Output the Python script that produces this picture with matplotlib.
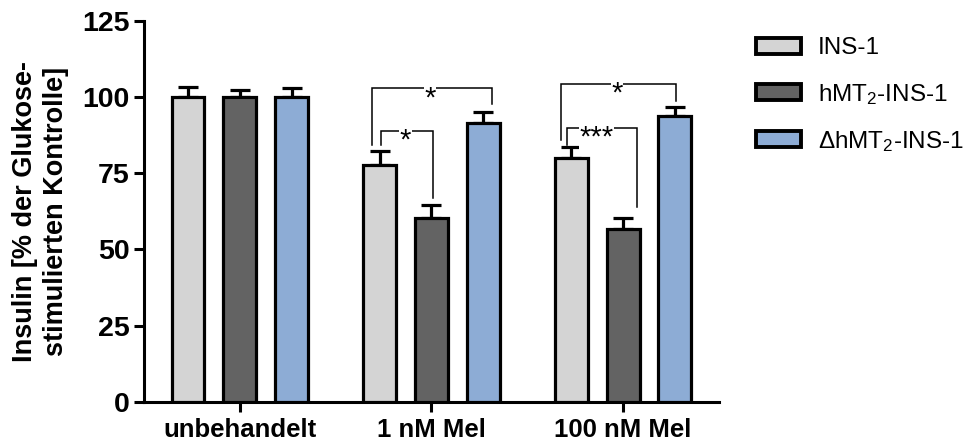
import matplotlib
matplotlib.use("Agg")
import matplotlib.pyplot as plt
import numpy as np

# data
groups = ["unbehandelt", "1 nM Mel", "100 nM Mel"]
series = ["INS-1", r"hMT$_2$-INS-1", r"ΔhMT$_2$-INS-1"]
ins1 = [100.0, 77.6, 80.1]
ins1_sem = [3.1, 4.8, 3.4]
hmt2 = [100.0, 60.2, 56.6]
hmt2_sem = [2.3, 4.3, 3.7]
dhmt2 = [100.0, 91.5, 93.8]
dhmt2_sem = [3.0, 3.7, 3.0]
colors = ["#d4d4d4", "#636363", "#8dacd5"]

# significance brackets: x_left, x_right, y_top, y_left_end, y_right_end, label
brackets = [
    (0.689, 1.316, 102.8, 84.2, 97.6, "*"),
    (0.735, 1.008, 88.9, 84.2, 66.7, "*"),
    (1.676, 2.275, 104.2, 85.9, 98.8, "*"),
    (1.706, 2.071, 89.7, 84.2, 63.8, "***"),
]
star_x = [0.992, 0.865, 1.967, 1.862]

plt.rcParams["font.family"] = ["Liberation Sans", "DejaVu Sans"]
plt.rcParams["mathtext.fontset"] = "custom"
plt.rcParams["mathtext.rm"] = "Liberation Sans"
plt.rcParams["mathtext.it"] = "Liberation Sans:italic"

fig = plt.figure(figsize=(9.79, 4.43), dpi=100)
ax = fig.add_axes([0.147, 0.0932, 0.7344 - 0.147, 0.9533 - 0.0932])

x = np.arange(len(groups))
step = 0.27
width = 0.172
lw = 2.3
vals = [ins1, hmt2, dhmt2]
sems = [ins1_sem, hmt2_sem, dhmt2_sem]
for i in range(3):
    pos = x + (i - 1) * step
    ax.bar(pos, vals[i], width, color=colors[i], edgecolor="black",
           linewidth=lw, label=series[i], zorder=3)
    ax.errorbar(pos, vals[i], yerr=[np.zeros(3), sems[i]], fmt="none",
                ecolor="black", elinewidth=lw, capsize=7, capthick=lw, zorder=2)

for (x1, x2, yt, yl, yr, lab), sx in zip(brackets, star_x):
    ax.plot([x1, x1, x2, x2], [yl, yt, yt, yr], color="black", lw=1.1,
            zorder=4, solid_joinstyle="miter")
    ax.text(sx, yt - 3.2, lab, ha="center", va="center", fontsize=21,
            zorder=5, bbox=dict(facecolor="white", edgecolor="none", pad=0.5))

ax.set_xlim(-0.5, 2.5)
ax.set_ylim(0, 125)
ax.set_yticks([0, 25, 50, 75, 100, 125])
ax.set_xticks(x)
ax.set_xticklabels(groups, fontsize=18.5, fontweight="bold")
for lbl in ax.get_yticklabels():
    lbl.set_fontsize(20.5)
    lbl.set_fontweight("bold")
ax.tick_params(axis="both", direction="out", length=7.5, width=2.2, pad=3)
ax.tick_params(axis="x", pad=4)
for s in ["top", "right"]:
    ax.spines[s].set_visible(False)
for s in ["left", "bottom"]:
    ax.spines[s].set_linewidth(2.2)

ax.set_ylabel("Insulin [% der Glukose-\nstimulierten Kontrolle]", fontsize=19.5,
              fontweight="bold", linespacing=1.25, labelpad=9)

leg = ax.legend(loc="upper left", bbox_to_anchor=(1.047, 0.982), frameon=False,
                fontsize=17.5, handlelength=1.85, handleheight=0.65,
                handletextpad=0.7, labelspacing=0.92, borderaxespad=0)
for h in leg.legend_handles:
    h.set_linewidth(2.8)

fig.savefig("out.png", dpi=100)
